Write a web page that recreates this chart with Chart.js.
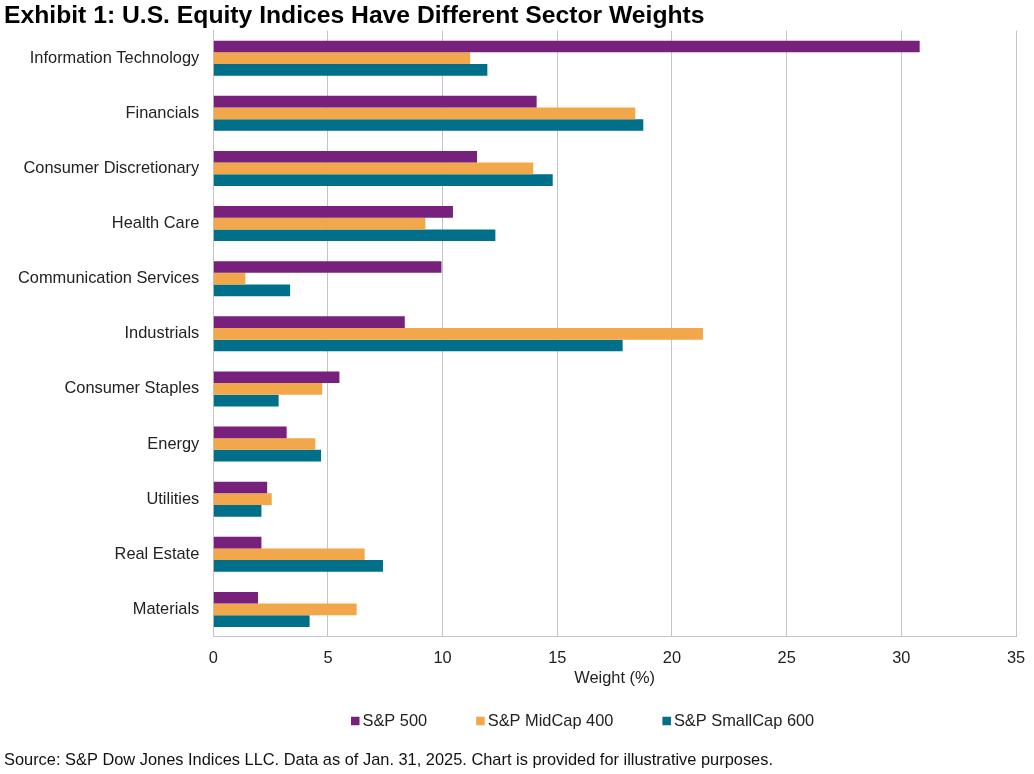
<!DOCTYPE html>
<html>
<head>
<meta charset="utf-8">
<script src="https://cdn.jsdelivr.net/npm/chart.js@4"></script>
<style>
  html, body { margin: 0; padding: 0; background: #fff; }
  #wrap { width: 1034px; height: 774px; }
</style>
</head>
<body>
<div id="wrap"><canvas id="sectorChart"></canvas></div>
<script>
const sectors = ['Information Technology', 'Financials', 'Consumer Discretionary', 'Health Care',
  'Communication Services', 'Industrials', 'Consumer Staples', 'Energy', 'Utilities', 'Real Estate', 'Materials'];
const sp500 = [30.8, 14.1, 11.5, 10.45, 9.95, 8.35, 5.5, 3.2, 2.35, 2.1, 1.95];
const midcap400 = [11.2, 18.4, 13.95, 9.25, 1.4, 21.35, 4.75, 4.45, 2.55, 6.6, 6.25];
const smallcap600 = [11.95, 18.75, 14.8, 12.3, 3.35, 17.85, 2.85, 4.7, 2.1, 7.4, 4.2];
const xTicks = [0, 5, 10, 15, 20, 25, 30, 35];

const font = "'Liberation Sans', Arial, sans-serif";
const textSize = 16.4;
const gridColor = '#c4c4c4';

// Excel-style legend: small squares, wide gaps, drawn between axis title and source line
const bottomLegend = {
  id: 'bottomLegend',
  afterDraw(chart) {
    const ctx = chart.ctx;
    const y = 721;
    const box = 8.5;
    ctx.save();
    ctx.font = `${textSize}px ${font}`;
    ctx.textBaseline = 'middle';
    let x = 351;
    chart.data.datasets.forEach(ds => {
      ctx.fillStyle = ds.backgroundColor;
      ctx.fillRect(x, y - box / 2, box, box);
      ctx.fillStyle = '#222';
      ctx.fillText(ds.label, x + box + 3, y);
      x += box + 3 + ctx.measureText(ds.label).width + 49;
    });
    ctx.restore();
  }
};

new Chart(document.getElementById('sectorChart'), {
  type: 'bar',
  data: {
    labels: sectors,
    datasets: [
      { label: 'S&P 500', data: sp500, backgroundColor: '#77217d' },
      { label: 'S&P MidCap 400', data: midcap400, backgroundColor: '#f2a74b' },
      { label: 'S&P SmallCap 600', data: smallcap600, backgroundColor: '#006f8a' }
    ].map(d => ({ ...d, categoryPercentage: 0.635, barPercentage: 1.0 }))
  },
  plugins: [bottomLegend],
  options: {
    indexAxis: 'y',
    responsive: true,
    maintainAspectRatio: false,
    animation: false,
    layout: { padding: { left: 4, right: 0, bottom: 4 } },
    plugins: {
      title: {
        display: true,
        text: 'Exhibit 1: U.S. Equity Indices Have Different Sector Weights',
        align: 'start',
        color: '#000',
        font: { family: font, size: 24.7, weight: 'bold' },
        padding: { top: 1, bottom: 0 }
      },
      subtitle: {
        display: true,
        position: 'bottom',
        text: 'Source: S&P Dow Jones Indices LLC. Data as of Jan. 31, 2025. Chart is provided for illustrative purposes.',
        align: 'start',
        color: '#111',
        font: { family: font, size: textSize },
        padding: { top: 62, bottom: 0 }
      },
      legend: { display: false },
      tooltip: { enabled: false }
    },
    scales: {
      x: {
        min: 0,
        max: 35,
        afterBuildTicks: axis => { axis.ticks = xTicks.map(v => ({ value: v })); },
        afterFit: axis => { axis.paddingRight = 18; },
        grid: { color: gridColor, drawTicks: false },
        border: { color: gridColor },
        ticks: { color: '#222', font: { family: font, size: textSize }, padding: 12 },
        title: {
          display: true,
          text: 'Weight (%)',
          color: '#222',
          font: { family: font, size: textSize },
          padding: { top: -12, bottom: 0 }
        }
      },
      y: {
        grid: { display: false, drawTicks: false },
        border: { color: gridColor },
        ticks: { color: '#222', font: { family: font, size: textSize }, padding: 14 }
      }
    }
  }
});
</script>
</body>
</html>
